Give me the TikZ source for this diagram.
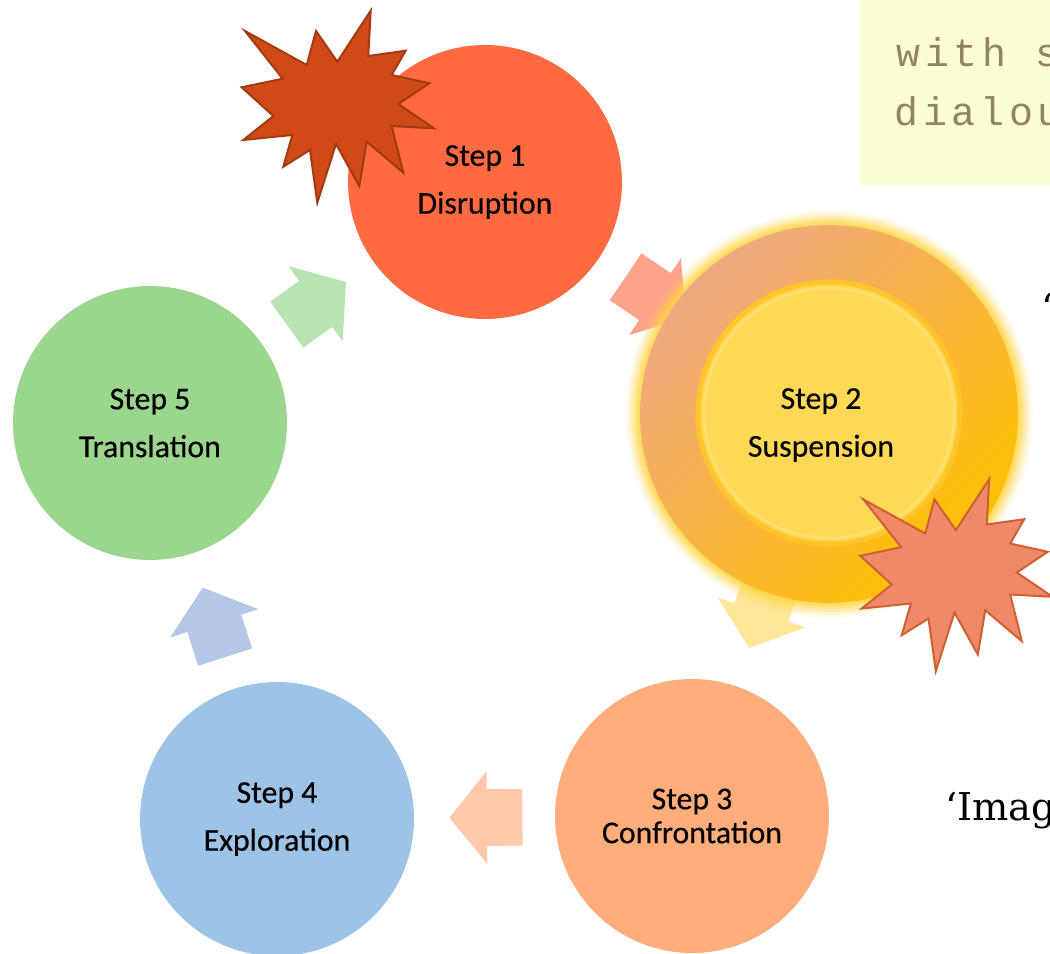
\documentclass[tikz,border=0pt]{standalone}
\usepackage{fontspec}
\setmainfont{Carlito}[FakeBold=0.4]
\newfontfamily\slabfont{DejaVu Serif}
\newfontfamily\handfont[LetterSpace=12]{Liberation Mono}
\usetikzlibrary{shapes.arrows,calc}
\pgfdeclarelayer{back}
\pgfsetlayers{back,main}
\definecolor{cOne}{HTML}{FF6A40}
\definecolor{cThree}{HTML}{FFAE7B}
\definecolor{cFour}{HTML}{9DC3E6}
\definecolor{cFive}{HTML}{9BD68E}
\definecolor{aOne}{HTML}{FFA38A}
\definecolor{aTwo}{HTML}{FFE699}
\definecolor{aThree}{HTML}{FFC9AA}
\definecolor{aFour}{HTML}{B4C7E7}
\definecolor{aFive}{HTML}{B7E4B2}
\definecolor{ringA}{HTML}{F0A882}
\definecolor{ringB}{HTML}{FFC000}
\definecolor{innerY}{HTML}{FFD955}
\definecolor{rimY}{HTML}{FFC52A}
\definecolor{glowY}{HTML}{FFD640}
\definecolor{burstA}{HTML}{D04A18}
\definecolor{burstAline}{HTML}{A33A10}
\definecolor{burstB}{HTML}{EE8A6A}
\definecolor{burstBline}{HTML}{D0602F}
\definecolor{noteY}{HTML}{FCFCD5}
\definecolor{ink}{HTML}{8F8660}
\newcommand\steplabel{\fontsize{18.1}{27.2}\selectfont}
\newcommand\steplabeltight{\fontsize{18.1}{19.3}\selectfont}
\tikzset{
  stepcircle/.style={circle, inner sep=0pt, minimum size=5.48cm, align=center, font=\steplabel, text=black},
  flowarrow/.style={single arrow, draw=none, inner xsep=0pt, inner ysep=0.56cm, minimum height=1.46cm, minimum width=1.84cm,
    single arrow head extend=0.36cm, single arrow tip angle=102, sloped, allow upside down, pos=0.469},
  handtext/.style={font=\handfont\fontsize{22.7}{28}\selectfont, text=ink, anchor=base west, inner sep=0pt},
  slabtext/.style={font=\slabfont\fontsize{21.8}{26}\selectfont, text=black, anchor=base west, inner sep=0pt},
  starburst/.pic={
    \path[pic actions] (245,31) -- (306.7,65) -- (316,31) -- (337.3,61.7) -- (370.7,10.7) -- (368.3,56)
      -- (405.7,50.7) -- (391.7,75) -- (429.3,83.3) -- (398.3,104) -- (434,128.3) -- (391.7,126)
      -- (403.3,172.7) -- (366.7,141.7) -- (359.3,186) -- (336,144) -- (317.3,202.7) -- (310,150)
      -- (283.3,166.7) -- (292.3,135) -- (243.3,140) -- (273.3,116) -- (241.7,87.3) -- (282.7,78.7) -- cycle;
  }
}
\begin{document}
\begin{tikzpicture}[x=0.02cm, y=-0.02cm]
\useasboundingbox (0,0) rectangle (1050,953);

% circles
\node[stepcircle, fill=cOne] (s1) at (485,182) {Step 1\\Disruption};
\coordinate (s2c) at (829,414);
\node[stepcircle, fill=cThree, font=\steplabeltight] (s3) at (692,816) {Step 3\\Confrontation};
\node[stepcircle, fill=cFour] (s4) at (277,819) {Step 4\\Exploration};
\node[stepcircle, fill=cFive] (s5) at (150,423) {Step 5\\Translation};

% glow and step 2
\foreach \r/\o in {204/0.08,201/0.15,198/0.25,195/0.35,192/0.5} {
  \fill[glowY, opacity=\o] (s2c) circle (\r);
}
\node[circle, inner sep=0pt, minimum size=7.56cm, top color=ringA, bottom color=ringB, shading angle=45] (s2) at (s2c) {};
\node[circle, inner sep=0pt, minimum size=5.24cm, fill=innerY, draw=rimY, line width=0.1cm] (s2in) at (829,413) {};
\draw[color=innerY!60!white, line width=0.04cm, opacity=0.5] (s2in.center) circle (125);
\node[font=\steplabel, align=center, text=black, inner sep=0pt] (s2text) at (821,425) {Step 2\\Suspension};

% arrows (behind)
\begin{pgfonlayer}{back}
  \fill[white] (0,0) rectangle (1050,953);
  \fill[noteY] (860,0) rectangle (1050,185);
  \path (s1.center) -- node[flowarrow, fill=aOne] (a12) {} (s2c);
  \path (s2c) -- node[flowarrow, fill=aTwo] (a23) {} (s3.center);
  \path (s3.center) -- node[flowarrow, fill=aThree] (a34) {} (s4.center);
  \path (s4.center) -- node[flowarrow, fill=aFour] (a45) {} (s5.center);
  \path (s5.center) -- node[flowarrow, fill=aFive] (a51) {} (s1.center);
\end{pgfonlayer}

% note text
\begin{scope}
  \clip (860,0) rectangle (1050,185);
  \node[handtext] (n1) at (896,67) {with s};
  \node[handtext] (n2) at (894,125) {dialou};
\end{scope}

% right-side text fragments
\begin{scope}
  \clip (0,0) rectangle (1050,953);
  \node[slabtext] (q1) at (1041,321) {‘};
  \node[slabtext] (q2) at (945,820) {‘Imag};
  \pic[fill=burstA, draw=burstAline, line width=0.04cm, line join=miter] at (0,0) {starburst};
  \pic[fill=burstB, draw=burstBline, line width=0.04cm, line join=miter] at (618.5,468.5) {starburst};
\end{scope}
\end{tikzpicture}
\end{document}
